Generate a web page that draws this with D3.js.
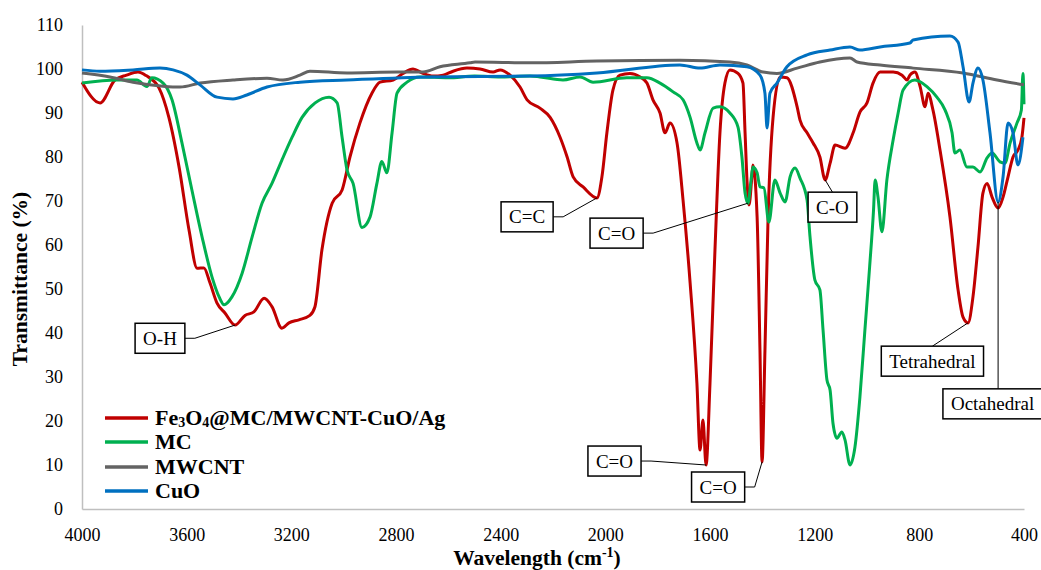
<!DOCTYPE html>
<html>
<head>
<meta charset="utf-8">
<script src="https://cdn.jsdelivr.net/npm/d3@7"></script>
<style>
body{margin:0;background:#fff;}
svg text{font-family:"Liberation Serif","Times New Roman",serif;fill:#000;}
</style>
</head>
<body>
<div id="chart"></div>
<script>
//FTIR spectra, [wavenumber, transmittance %]
var fe3o4Composite = [[4000,97],[3931,92.3],[3874,97.5],[3830,98.6],[3786,99.3],[3755,98.5],[3706,95.7],[3668,89],[3629,77.7],[3591,63.4],[3560,54.7],[3534,54.8],[3511,51.4],[3484,46.8],[3453,44.5],[3415,41.8],[3377,44],[3343,44.8],[3304,47.9],[3274,46],[3236,41.1],[3209,42.3],[3171,43],[3129,44],[3110,45.9],[3083,58.9],[3044,69.5],[3006,72.5],[2976,80],[2938,87.7],[2892,94.5],[2861,97],[2811,97.5],[2773,99],[2735,100],[2697,99],[2658,98.4],[2620,98.6],[2582,99.5],[2529,100.2],[2479,100],[2429,99.3],[2402,99.8],[2364,98.6],[2326,95.9],[2299,93],[2250,91.1],[2211,89],[2173,84.5],[2146,80],[2123,75.5],[2085,73.2],[2032,70.7],[2013,75.5],[1994,85.5],[1971,95.2],[1944,98.6],[1906,99],[1867,98.2],[1841,96.8],[1818,93],[1791,90],[1772,85.5],[1753,87.7],[1726,83.2],[1703,70.2],[1676,51.4],[1650,28.6],[1638,13.4],[1627,20.2],[1615,10],[1600,28.6],[1581,58.9],[1562,85.5],[1543,96.8],[1524,99.8],[1493,99],[1474,96.8],[1466,85.5],[1458,74],[1451,69.1],[1440,75.5],[1436,78.2],[1420,66.4],[1409,36],[1401,10.7],[1390,36],[1378,66.4],[1359,89],[1332,98.2],[1306,98],[1267,91.4],[1256,88.4],[1229,85.5],[1206,83.2],[1180,80],[1160,74.8],[1141,78.6],[1122,82.7],[1084,82],[1053,85.5],[1027,90.2],[1000,92.3],[977,96.8],[950,99.3],[900,99.3],[866,98.6],[847,97.5],[836,98.6],[817,99.3],[797,96],[778,91.4],[767,94.5],[748,90.7],[721,81.6],[683,66.4],[652,49.8],[633,43.6],[614,42.3],[595,48.2],[576,59.5],[557,71.8],[541,74],[522,70.9],[499,68.4],[480,70.9],[461,75.5],[442,80],[423,81.6],[408,84.5],[400,88.9]];

var mc = [[4000,96.8],[3866,97.5],[3790,97.5],[3752,96],[3733,98],[3690,96.8],[3656,93],[3618,83.2],[3580,72.5],[3541,61.8],[3503,52.7],[3476,48.2],[3457,46.4],[3427,48.2],[3388,53.6],[3350,61.8],[3312,69.5],[3274,74],[3236,79.3],[3197,84.5],[3159,89],[3109,92.3],[3056,93.6],[3025,92.3],[3006,84.5],[2987,77],[2964,74],[2930,64],[2899,66.4],[2873,74],[2854,79],[2835,76.4],[2815,85.5],[2796,94.5],[2758,97],[2708,98.2],[2600,98],[2500,98.4],[2400,98.2],[2288,98.4],[2250,98.2],[2162,97.5],[2097,98.2],[2047,97],[1918,98],[1841,98],[1791,96.8],[1741,94.8],[1703,93],[1676,89],[1650,83.2],[1638,81.6],[1619,85.5],[1588,91.1],[1562,91.4],[1524,90],[1493,86.8],[1478,80],[1466,71.8],[1455,69.5],[1443,74.8],[1436,77.7],[1420,76.4],[1409,73.2],[1394,73],[1375,65.2],[1352,74.8],[1332,71.8],[1313,69.8],[1294,75.5],[1275,77.5],[1256,75.2],[1229,70.2],[1218,62],[1199,52],[1180,49.8],[1168,40.7],[1153,29.3],[1141,27],[1130,19.5],[1115,16.1],[1096,17.5],[1084,15.7],[1065,10],[1046,14.1],[1027,25.5],[1008,40.7],[990,55],[975,68],[969,74.8],[958,70.9],[943,63],[924,74.8],[900,83.9],[881,90],[862,95.2],[817,97.5],[771,96],[733,93.6],[702,90.7],[675,85.5],[664,80.9],[645,81.6],[618,77.7],[595,77.7],[568,76.6],[541,79.8],[522,80.9],[492,78.9],[473,78.6],[453,83.2],[427,87.7],[410,90.7],[404,99],[400,92]];

var mwcnt = [[4000,99.1],[3893,98.2],[3805,97],[3690,96.1],[3625,95.9],[3549,96.8],[3423,97.5],[3293,97.9],[3232,97.5],[3167,98.6],[3129,99.5],[2987,99.1],[2796,99.3],[2697,99.3],[2632,100.5],[2517,101.4],[2498,101.6],[2288,101.4],[2032,101.8],[1715,102],[1524,101.6],[1459,100.9],[1397,99.3],[1344,99],[1267,100.2],[1180,101.6],[1065,102.5],[1038,101.6],[950,100.9],[824,100.2],[633,99.1],[503,97.5],[400,96.4]];

var cuo = [[4000,99.8],[3931,99.5],[3805,99.8],[3702,100.2],[3652,99.8],[3599,98.6],[3549,96.4],[3484,93.6],[3423,93.2],[3370,94.1],[3293,95.9],[3167,97],[2987,97.5],[2670,98.2],[2288,98.4],[2032,99.1],[1715,100.9],[1638,100.2],[1562,100.9],[1459,100.5],[1409,98.6],[1390,94.5],[1382,86.6],[1371,94.5],[1344,96.8],[1306,100.5],[1229,103.2],[1141,104.3],[1065,105],[1027,104.3],[950,105],[836,105.9],[824,106.6],[683,107.5],[652,106.1],[633,100.5],[610,92.5],[595,96.8],[576,100.2],[557,97.5],[530,85.5],[499,69.8],[480,75.5],[461,87.7],[442,85.5],[423,78.2],[404,84.5]];

var seriesNames = ["Fe3O4@MC/MWCNT-CuO/Ag", "MC", "MWCNT", "CuO"];
var seriesData = [fe3o4Composite, mc, mwcnt, cuo];
var seriesColors = ["#C00000", "#00B050", "#636363", "#0070C0"];

var xTicks = [4000, 3600, 3200, 2800, 2400, 2000, 1600, 1200, 800, 400];
var yTicks = [0, 10, 20, 30, 40, 50, 60, 70, 80, 90, 100, 110];

//peak labels: text, peak point, box centre (both in data units), leader kind
var peakLabels = [
    {text: "O-H", wn: 3415, t: 41.8, bw: 3702, bt: 38.8, kind: "side"},
    {text: "C=C", wn: 2032, t: 70.7, bw: 2299, bt: 66.4, kind: "side"},
    {text: "C=O", wn: 1455, t: 69.5, bw: 1957, bt: 62.7, kind: "side"},
    {text: "C-O", wn: 1160, t: 74.8, bw: 1132, bt: 68.6, kind: "top"},
    {text: "C=O", wn: 1615, t: 10, bw: 1965, bt: 10.9, kind: "side"},
    {text: "C=O", wn: 1401, t: 10.7, bw: 1569, bt: 5, kind: "side"},
    {text: "Tetrahedral", wn: 614, t: 42.3, bw: 750, bt: 33.6, kind: "top"},
    {text: "Octahedral", wn: 499, t: 69.8, bw: 520, bt: 23.9, kind: "vert"}
];

var w = 1041;
var h = 570;
var serif = "Liberation Serif, Times New Roman, serif";

var svg = d3.select("#chart")
    .append("svg")
    .attr("width", w)
    .attr("height", h);

var x = d3.scaleLinear().domain([4000, 400]).range([82, 1024]);
var y = d3.scaleLinear().domain([0, 110]).range([509, 25]);

//axes, Excel style: grey lines, no tick marks
var xAxis = svg.append("g")
    .attr("transform", "translate(0," + y(0) + ")")
    .call(d3.axisBottom(x).tickValues(xTicks).tickSize(0).tickPadding(19).tickFormat(d3.format("d")));
var yAxis = svg.append("g")
    .attr("transform", "translate(" + x(4000) + ",0)")
    .call(d3.axisLeft(y).tickValues(yTicks).tickSize(0).tickPadding(19));

[xAxis, yAxis].forEach(function(a){
    a.attr("font-family", serif);
    a.select(".domain").attr("stroke", "#BFBFBF").attr("stroke-width", 1.5);
    a.selectAll("text").attr("font-size", 18).attr("fill", "#000");
});

//spectra lines
var line = d3.line()
    .x(function(d){ return x(d[0]); })
    .y(function(d){ return y(d[1]); })
    .curve(d3.curveMonotoneX);

svg.selectAll("path.spectrum")
    .data(seriesData)
    .enter()
    .append("path")
    .attr("class", "spectrum")
    .attr("d", line)
    .attr("fill", "none")
    .attr("stroke", function(d, i){ return seriesColors[i]; })
    .attr("stroke-width", 3)
    .attr("stroke-linejoin", "round");

//peak labels with leader lines
var labelFont = 19;
peakLabels.forEach(function(p){
    var g = svg.append("g");
    var cx = x(p.bw), cy = y(p.bt);
    var txt = g.append("text")
        .attr("x", cx).attr("y", cy)
        .attr("dy", "0.35em")
        .attr("text-anchor", "middle")
        .attr("font-size", labelFont)
        .text(p.text);
    var tw = txt.node().getComputedTextLength();
    var bw = tw + 16, bh = 30;
    var left = cx - bw / 2, top = cy - bh / 2;
    var px = x(p.wn), py = y(p.t);
    var pts;
    if (p.kind === "side") {
        pts = [[left + bw, cy], [left + bw + 10, cy], [px, py]];
    } else if (p.kind === "top") {
        pts = [[cx, top], [px, py]];
    } else {
        pts = [[px, top], [px, py]];
    }
    g.insert("path", "text")
        .attr("d", d3.line()(pts))
        .attr("fill", "none")
        .attr("stroke", "#000")
        .attr("stroke-width", 1);
    g.insert("rect", "text")
        .attr("x", left).attr("y", top)
        .attr("width", bw).attr("height", bh)
        .attr("fill", "#fff")
        .attr("stroke", "#000")
        .attr("stroke-width", 1.5);
});

//legend
var legendY = [418, 442, 467, 491];
var legend = svg.selectAll("g.legend")
    .data(seriesNames)
    .enter()
    .append("g")
    .attr("class", "legend")
    .attr("transform", function(d, i){ return "translate(105," + legendY[i] + ")"; });
legend.append("line")
    .attr("x1", 0).attr("x2", 43)
    .attr("stroke", function(d, i){ return seriesColors[i]; })
    .attr("stroke-width", 3.5);
legend.append("text")
    .attr("x", 50)
    .attr("dy", "0.33em")
    .attr("font-size", 22)
    .attr("font-weight", "bold")
    .each(function(d){
        var t = d3.select(this);
        if (d.indexOf("Fe3O4") === 0) {
            t.append("tspan").text("Fe");
            t.append("tspan").attr("font-size", 14).attr("dy", 2).text("3");
            t.append("tspan").attr("dy", -2).text("O");
            t.append("tspan").attr("font-size", 14).attr("dy", 2).text("4");
            t.append("tspan").attr("dy", -2).text(d.slice(5));
        } else {
            t.text(d);
        }
    });

//axis titles
svg.append("text")
    .attr("transform", "translate(27,279) rotate(-90)")
    .attr("text-anchor", "middle")
    .attr("font-size", 21.5)
    .attr("font-weight", "bold")
    .text("Transmittance (%)");

var xt = svg.append("text")
    .attr("x", 537).attr("y", 565)
    .attr("text-anchor", "middle")
    .attr("font-size", 21.5)
    .attr("font-weight", "bold");
xt.append("tspan").text("Wavelength (cm");
xt.append("tspan").attr("font-size", 14).attr("dy", -8).text("-1");
xt.append("tspan").attr("dy", 8).text(")");
</script>
</body>
</html>
